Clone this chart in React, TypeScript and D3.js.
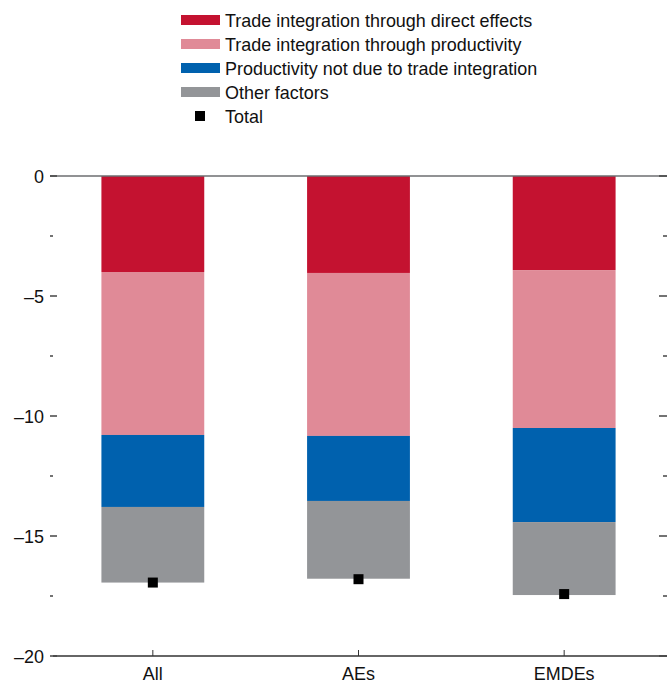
import * as d3 from "d3";

const categories = ["All", "AEs", "EMDEs"];
const seriesNames = [
  "Trade integration through direct effects",
  "Trade integration through productivity",
  "Productivity not due to trade integration",
  "Other factors",
];
const directEffects = [-4.0, -4.04, -3.92];
const viaProductivity = [-6.79, -6.79, -6.58];
const otherProductivity = [-3.0, -2.71, -3.92];
const otherFactors = [-3.15, -3.24, -3.04];
const totals = [-16.94, -16.8, -17.42];
const yTicks = [0, -5, -10, -15, -20];
const minorTicks = [-2.5, -7.5, -12.5, -17.5];

const colors = ["#c41230", "#e08a97", "#0061ae", "#939598"];
const font = "'Liberation Sans Narrow', 'Arial Narrow', 'Liberation Sans', sans-serif";

const App = () => {
  const width = 671;
  const height = 683;
  const left = 50, right = 667, top = 176, bottom = 656;

  const x = d3.scaleBand().domain(categories).range([left, right]).paddingInner(0.5).paddingOuter(0.25);
  const y = d3.scaleLinear().domain([0, -20]).range([top, bottom]);

  const series = [directEffects, viaProductivity, otherProductivity, otherFactors];
  const stackData = categories.map((c, i) => {
    const row: any = { cat: c };
    series.forEach((s, k) => (row["s" + k] = -s[i]));
    return row;
  });
  const stacked = d3.stack().keys(series.map((_, k) => "s" + k))(stackData);

  const fmt = (v: number) => (v < 0 ? "\u2013" + Math.abs(v) : String(v));

  return (
    <svg width={width} height={height} style={{ position: "absolute", left: 0, top: 0 }} fontFamily={font}>
      {/* legend */}
      {seriesNames.map((name, k) => (
        <g key={name} transform={`translate(181, ${20 + k * 24})`}>
          <rect x={0} y={-5} width={39} height={10} fill={colors[k]} />
          <text transform="translate(44, 7) scale(0.945, 1)" fontSize={19} fill="#111">{name}</text>
        </g>
      ))}
      <g transform={`translate(181, ${20 + 4 * 24})`}>
        <rect x={14} y={-5} width={10} height={10} fill="#000" />
        <text transform="translate(44, 7) scale(0.945, 1)" fontSize={19} fill="#111">Total</text>
      </g>

      {/* bars */}
      {stacked.map((layer, k) =>
        layer.map((d, i) => (
          <rect
            key={k + "-" + i}
            x={x(categories[i])}
            width={x.bandwidth()}
            y={y(-d[0])}
            height={y(-d[1]) - y(-d[0])}
            fill={colors[k]}
          />
        ))
      )}

      {/* zero line */}
      <line x1={left} x2={right} y1={y(0)} y2={y(0)} stroke="#6d6e71" strokeWidth={1.5} />
      {/* bottom axis */}
      <line x1={left + 3} x2={right} y1={y(-20)} y2={y(-20)} stroke="#333" strokeWidth={1.5} />
      {categories.map((c) => (
        <g key={c}>
          <line x1={x(c)! + x.bandwidth() / 2} x2={x(c)! + x.bandwidth() / 2} y1={bottom - 6} y2={bottom} stroke="#333" strokeWidth={1} />
          <text transform={`translate(${x(c)! + x.bandwidth() / 2}, 680) scale(0.945, 1)`} textAnchor="middle" fontSize={19} fill="#111">{c}</text>
        </g>
      ))}

      {/* y ticks */}
      {yTicks.map((t) => (
        <g key={t}>
          <line x1={left} x2={left + 7} y1={y(t)} y2={y(t)} stroke="#444" strokeWidth={1.5} />
          <line x1={right - 8} x2={right} y1={y(t)} y2={y(t)} stroke="#444" strokeWidth={1.5} />
          <text transform={`translate(44, ${y(t) + 7}) scale(0.945, 1)`} textAnchor="end" fontSize={19} fill="#111">{fmt(t)}</text>
        </g>
      ))}
      {minorTicks.map((t) => (
        <g key={t}>
          <line x1={left} x2={left + 3} y1={y(t)} y2={y(t)} stroke="#444" strokeWidth={1.5} />
          <line x1={right - 4} x2={right} y1={y(t)} y2={y(t)} stroke="#444" strokeWidth={1.5} />
        </g>
      ))}

      {/* totals */}
      {totals.map((v, i) => (
        <rect key={i} x={x(categories[i])! + x.bandwidth() / 2 - 5} y={y(v) - 5} width={10} height={10} fill="#000" />
      ))}
    </svg>
  );
};

export default App;
